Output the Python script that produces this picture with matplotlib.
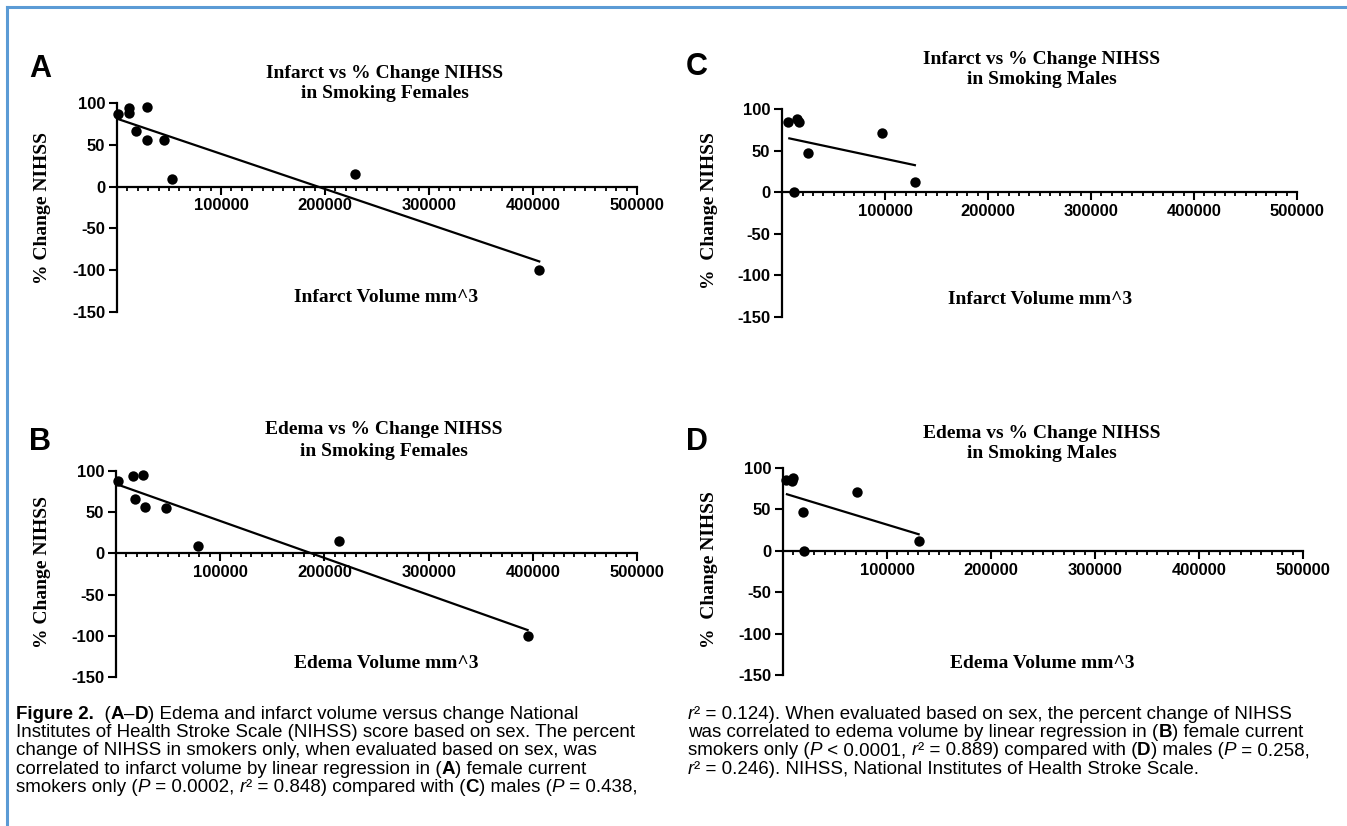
import re
import matplotlib
matplotlib.use("Agg")
import matplotlib.pyplot as plt
from matplotlib import font_manager
from matplotlib.font_manager import FontProperties
from matplotlib.lines import Line2D
from matplotlib.ticker import MultipleLocator

W, H = 1347, 826

# values
# A: infarct volume vs % change NIHSS, smoking females
a_x = [1000, 11200, 11900, 18600, 28800, 28500, 45200, 52900, 228800, 406000]
a_y = [86.8, 93.6, 87.6, 66.8, 94.8, 56.0, 55.6, 8.8, 15.3, -100]
a_fit_x = [1000, 406000]
a_fit_y = [80.8, -89.5]

# B: edema volume, smoking females
b_x = [1900, 16300, 25900, 18500, 28100, 48200, 78600, 214000, 395000]
b_y = [87.9, 93.5, 95.1, 66.5, 56.4, 55.6, 8.9, 15.4, -100]
b_fit_x = [1000, 395000]
b_fit_y = [83.8, -93.0]

# C: infarct volume, smoking males
c_x = [6100, 14200, 16200, 11900, 25500, 97400, 129000]
c_y = [84.3, 88.0, 84.0, 0.0, 47.0, 71.0, 12.0]
c_fit_x = [7100, 129000]
c_fit_y = [64.7, 32.5]

# D: edema volume, smoking males
d_x = [3200, 9600, 8700, 18800, 19800, 71200, 130400]
d_y = [85.0, 87.5, 83.8, 47.0, 0.0, 70.5, 12.0]
d_fit_x = [3800, 130400]
d_fit_y = [68.3, 20.0]

x_ticks = [100000, 200000, 300000, 400000, 500000]
x_tick_labels = ["100000", "200000", "300000", "400000", "500000"]
y_ticks = [-150, -100, -50, 0, 50, 100]
y_tick_labels = ["-150", "-100", "-50", "0", "50", "100"]

# caption, **bold** and *italic* marked inline
caption_left = [
    "**Figure 2.**  (**A**–**D**) Edema and infarct volume versus change National",
    "Institutes of Health Stroke Scale (NIHSS) score based on sex. The percent",
    "change of NIHSS in smokers only, when evaluated based on sex, was",
    "correlated to infarct volume by linear regression in (**A**) female current",
    "smokers only (*P* = 0.0002, *r*² = 0.848) compared with (**C**) males (*P* = 0.438,",
]
caption_right = [
    "*r*² = 0.124). When evaluated based on sex, the percent change of NIHSS",
    "was correlated to edema volume by linear regression in (**B**) female current",
    "smokers only (*P* < 0.0001, *r*² = 0.889) compared with (**D**) males (*P* = 0.258,",
    "*r*² = 0.246). NIHSS, National Institutes of Health Stroke Scale.",
]

installed = {f.name for f in font_manager.fontManager.ttflist}
NARROW = "Liberation Sans Narrow" if "Liberation Sans Narrow" in installed else "Liberation Sans"
SERIF = "Liberation Serif"

fig = plt.figure(figsize=(W / 100, H / 100), dpi=100)
renderer = fig.canvas.get_renderer()


def px_axes(left, top, right, bottom):
    return fig.add_axes([left / W, 1 - bottom / H, (right - left) / W, (bottom - top) / H])


def ftext(x, y, s, **kw):
    fig.text(x / W, 1 - y / H, s, **kw)


def text_width(s, prop):
    # pad with bars so leading/trailing spaces are counted
    w1, _, _ = renderer.get_text_width_height_descent("|" + s + "|", prop, ismath=False)
    w2, _, _ = renderer.get_text_width_height_descent("||", prop, ismath=False)
    return w1 - w2


def rich_line(x, y, line, size):
    for part in re.split(r"(\*\*.+?\*\*|\*.+?\*)", line):
        if not part:
            continue
        weight, style = "normal", "normal"
        if part.startswith("**"):
            part, weight = part[2:-2], "bold"
        elif part.startswith("*"):
            part, style = part[1:-1], "italic"
        prop = FontProperties(family=NARROW, size=size, weight=weight, style=style)
        ftext(x, y, part, fontproperties=prop, ha="left", va="baseline")
        x += text_width(part, prop)


def draw_panel(ax, xs, ys, fit_x, fit_y):
    ax.set_xlim(0, 500000)
    ax.set_ylim(-150, 100)
    ax.patch.set_visible(False)
    ax.scatter(xs, ys, s=56, color="black", clip_on=False, zorder=3, linewidths=0)
    ax.plot(fit_x, fit_y, color="black", lw=1.6, clip_on=False, zorder=2)
    for side in ["top", "right"]:
        ax.spines[side].set_visible(False)
    ax.spines["bottom"].set_position(("data", 0))
    for side in ["left", "bottom"]:
        ax.spines[side].set_linewidth(1.6)
    ax.set_xticks(x_ticks)
    ax.set_xticklabels(x_tick_labels, fontfamily=NARROW, fontweight="bold", fontsize=12)
    ax.xaxis.set_minor_locator(MultipleLocator(10000))
    ax.set_yticks(y_ticks)
    ax.set_yticklabels(y_tick_labels, fontfamily=NARROW, fontweight="bold", fontsize=12)
    ax.tick_params(which="major", direction="out", length=5.5, width=1.5, pad=3)
    ax.tick_params(which="minor", direction="out", length=3.2, width=1.3)
    ax.tick_params(axis="y", which="minor", left=False)


panels = [
    (px_axes(117, 103, 637, 312), a_x, a_y, a_fit_x, a_fit_y),
    (px_axes(116, 471, 637, 677), b_x, b_y, b_fit_x, b_fit_y),
    (px_axes(782, 109, 1297, 317), c_x, c_y, c_fit_x, c_fit_y),
    (px_axes(783, 468, 1303, 675), d_x, d_y, d_fit_x, d_fit_y),
]
for ax, xs, ys, fx, fy in panels:
    draw_panel(ax, xs, ys, fx, fy)

title_kw = dict(fontfamily=SERIF, fontweight="bold", fontsize=14, ha="center", va="center")
ftext(385, 73, "Infarct vs % Change NIHSS", **title_kw)
ftext(385, 94, "in Smoking Females", **title_kw)
ftext(384, 430, "Edema vs % Change NIHSS", **title_kw)
ftext(384, 451, "in Smoking Females", **title_kw)
ftext(1042, 59, "Infarct vs % Change NIHSS", **title_kw)
ftext(1042, 80, "in Smoking Males", **title_kw)
ftext(1042, 433, "Edema vs % Change NIHSS", **title_kw)
ftext(1042, 454, "in Smoking Males", **title_kw)

ftext(386, 297, "Infarct Volume mm^3", **title_kw)
ftext(386, 663, "Edema Volume mm^3", **title_kw)
ftext(1040, 299, "Infarct Volume mm^3", **title_kw)
ftext(1042, 663, "Edema Volume mm^3", **title_kw)

ylab_kw = dict(fontfamily=SERIF, fontweight="bold", fontsize=14, ha="center", va="center", rotation=90)
ftext(43, 208, "% Change NIHSS", **ylab_kw)
ftext(43, 572, "% Change NIHSS", **ylab_kw)
ftext(710, 211, "%  Change NIHSS", **ylab_kw)
ftext(710, 570, "%  Change NIHSS", **ylab_kw)

letter_kw = dict(fontfamily="Liberation Sans", fontweight="bold", fontsize=22, ha="center", va="center")
ftext(40, 69, "A", **letter_kw)
ftext(40, 442, "B", **letter_kw)
ftext(697, 67, "C", **letter_kw)
ftext(697, 442, "D", **letter_kw)

for i, line in enumerate(caption_left):
    rich_line(16, 719 + i * 18.2, line, 13.5)
for i, line in enumerate(caption_right):
    rich_line(688, 719 + i * 18.2, line, 13.5)

# blue frame on top and left
frame_color = "#5b9bd5"
fig.add_artist(Line2D([7 / W, 1], [1 - 7 / H, 1 - 7 / H], color=frame_color, lw=2.2))
fig.add_artist(Line2D([7 / W, 7 / W], [0, 1 - 7 / H], color=frame_color, lw=2.2))

fig.savefig("out.png", dpi=100)
